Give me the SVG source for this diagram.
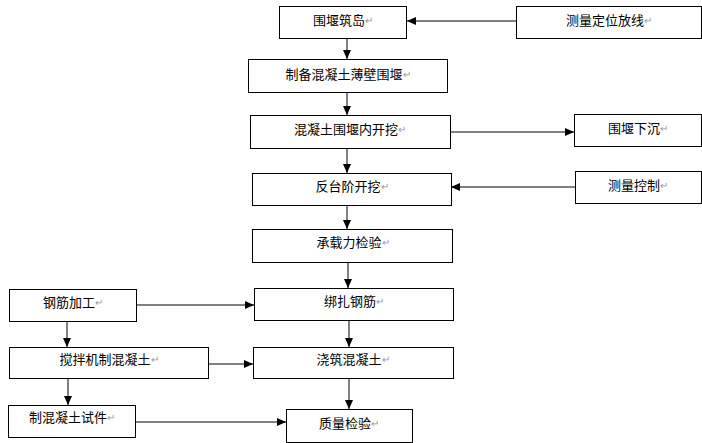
<svg xmlns="http://www.w3.org/2000/svg" width="702" height="443" viewBox="0 0 702 443">
<style>
rect{fill:#fff;stroke:#000;stroke-width:1}
text{font-family:"Noto Sans CJK SC","Noto Sans CJK JP",sans-serif;font-size:13px;fill:#000;text-anchor:middle;dominant-baseline:central}
.pm{fill:#999;font-size:10px}
.c line{stroke:#000;stroke-width:1;marker-end:url(#a)}
</style>
<defs>
<marker id="a" markerWidth="9" markerHeight="8" refX="9" refY="4" orient="auto" markerUnits="userSpaceOnUse">
<path d="M0,0 L9,4 L0,8 Z" fill="#000"/>
</marker>
</defs>
<rect x="0" y="0" width="702" height="443" style="stroke:none"/>
<g class="c" id="connectors">
<line x1="516" y1="21" x2="407" y2="21"/>
<line x1="347" y1="38" x2="347" y2="59"/>
<line x1="347" y1="92" x2="347" y2="115"/>
<line x1="450" y1="132" x2="574" y2="132"/>
<line x1="347" y1="148" x2="347" y2="173"/>
<line x1="575" y1="187" x2="451" y2="187"/>
<line x1="347" y1="205" x2="347" y2="229"/>
<line x1="348" y1="262" x2="348" y2="288"/>
<line x1="136" y1="305" x2="254" y2="305"/>
<line x1="349" y1="320" x2="349" y2="347"/>
<line x1="67" y1="321" x2="67" y2="347"/>
<line x1="208" y1="364" x2="253" y2="364"/>
<line x1="68" y1="378" x2="68" y2="405"/>
<line x1="349" y1="378" x2="349" y2="409"/>
<line x1="135" y1="422" x2="286" y2="422"/>
</g>
<g id="n1"><rect x="279.5" y="6.5" width="127" height="32"/><text x="343" y="19">围堰筑岛<tspan class="pm">↵</tspan></text></g>
<g id="n2"><rect x="516.5" y="6.5" width="185" height="32"/><text x="609" y="19">测量定位放线<tspan class="pm">↵</tspan></text></g>
<g id="n3"><rect x="248.5" y="59.5" width="199" height="33"/><text x="348" y="73">制备混凝土薄壁围堰<tspan class="pm">↵</tspan></text></g>
<g id="n4"><rect x="250.5" y="115.5" width="200" height="33"/><text x="350" y="128">混凝土围堰内开挖<tspan class="pm">↵</tspan></text></g>
<g id="n5"><rect x="574.5" y="114.5" width="127" height="32"/><text x="638" y="127">围堰下沉<tspan class="pm">↵</tspan></text></g>
<g id="n6"><rect x="252.5" y="173.5" width="199" height="32"/><text x="352" y="185">反台阶开挖<tspan class="pm">↵</tspan></text></g>
<g id="n7"><rect x="575.5" y="171.5" width="126" height="32"/><text x="638" y="184">测量控制<tspan class="pm">↵</tspan></text></g>
<g id="n8"><rect x="252.5" y="229.5" width="200" height="33"/><text x="353" y="241">承载力检验<tspan class="pm">↵</tspan></text></g>
<g id="n9"><rect x="254.5" y="288.5" width="199" height="32"/><text x="354" y="300">绑扎钢筋<tspan class="pm">↵</tspan></text></g>
<g id="n10"><rect x="9.5" y="289.5" width="127" height="32"/><text x="73" y="301">钢筋加工<tspan class="pm">↵</tspan></text></g>
<g id="n11"><rect x="9.5" y="347.5" width="199" height="31"/><text x="109" y="358">搅拌机制混凝土<tspan class="pm">↵</tspan></text></g>
<g id="n12"><rect x="253.5" y="347.5" width="200" height="31"/><text x="353" y="358">浇筑混凝土<tspan class="pm">↵</tspan></text></g>
<g id="n13"><rect x="8.5" y="405.5" width="127" height="32"/><text x="72" y="416">制混凝土试件<tspan class="pm">↵</tspan></text></g>
<g id="n14"><rect x="286.5" y="409.5" width="126" height="33"/><text x="349" y="422">质量检验<tspan class="pm">↵</tspan></text></g>
</svg>
